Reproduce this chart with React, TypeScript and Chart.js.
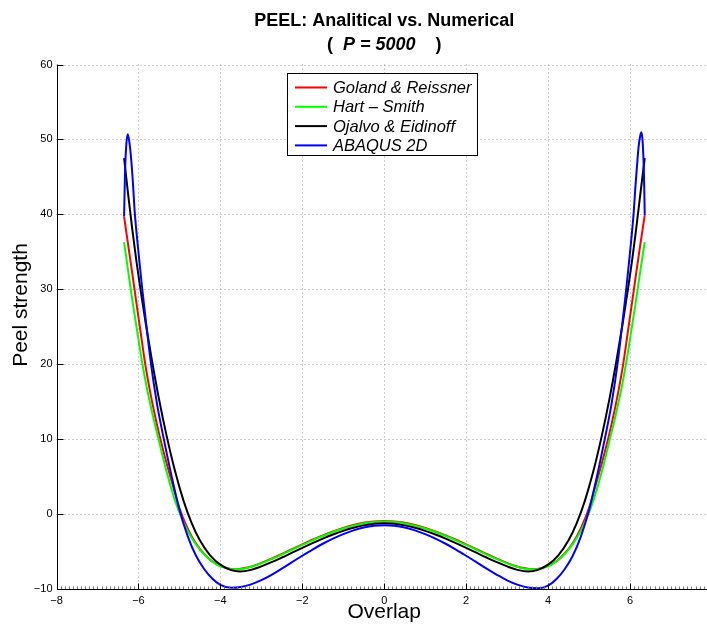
import React, { useEffect, useRef } from 'react';
import { Chart, registerables } from 'chart.js';

Chart.register(...registerables);

const FONT = '"Liberation Sans", Arial, Helvetica, sans-serif';

const xTicks = [-8, -6, -4, -2, 0, 2, 4, 6];
const yTicks = [-10, 0, 10, 20, 30, 40, 50, 60];
const titleLine1 = 'PEEL: Analitical vs. Numerical';
const titleLine2 = ['(  ', 'P = 5000', '    )'];
const xLabel = 'Overlap';
const yLabel = 'Peel strength';
const legendLabels = ['Goland & Reissner', 'Hart \u2013 Smith', 'Ojalvo & Eidinoff', 'ABAQUS 2D'];
const seriesColors = ['#ff0000', '#00ff00', '#000000', '#0000ff'];

const golandX = [-6.35, -6.25, -6.15, -6.06, -5.95, -5.84, -5.7, -5.55, -5.4, -5.2, -5.0, -4.8, -4.6, -4.4, -4.2, -4.0, -3.8, -3.64, -3.4, -3.2, -3.0, -2.75, -2.5, -2.25, -2.0, -1.75, -1.5, -1.25, -1.0, -0.75, -0.5, -0.25, 0,
  0.25, 0.5, 0.75, 1.0, 1.25, 1.5, 1.75, 2.0, 2.25, 2.5, 2.75, 3.0, 3.2, 3.4, 3.64, 3.8, 4.0, 4.2, 4.4, 4.6, 4.8, 5.0, 5.2, 5.4, 5.55, 5.7, 5.84, 5.95, 6.06, 6.15, 6.25, 6.36];
const golandY = [39.7, 35.9, 32.1, 28.6, 24.4, 20.2, 15.9, 12.0, 8.6, 4.6, 0.8, -1.9, -3.9, -5.3, -6.3, -6.9, -7.25, -7.37, -7.2, -6.92, -6.52, -5.95, -5.33, -4.68, -4.04, -3.42, -2.84, -2.31, -1.85, -1.46, -1.17, -0.99, -0.92,
  -0.99, -1.17, -1.46, -1.85, -2.31, -2.84, -3.42, -4.04, -4.68, -5.33, -5.95, -6.52, -6.92, -7.2, -7.37, -7.25, -6.9, -6.3, -5.3, -3.9, -1.9, 0.8, 4.6, 8.6, 12.0, 15.9, 20.2, 24.4, 28.6, 32.1, 35.9, 39.9];

const hartX = [-6.35, -6.25, -6.15, -6.05, -5.92, -5.8, -5.65, -5.5, -5.3, -5.1, -4.9, -4.7, -4.5, -4.3, -4.1, -3.9, -3.64, -3.4, -3.2, -3.0, -2.75, -2.5, -2.25, -2.0, -1.75, -1.5, -1.25, -1.0, -0.75, -0.5, -0.25, 0,
  0.25, 0.5, 0.75, 1.0, 1.25, 1.5, 1.75, 2.0, 2.25, 2.5, 2.75, 3.0, 3.2, 3.4, 3.64, 3.9, 4.1, 4.3, 4.5, 4.7, 4.9, 5.1, 5.3, 5.5, 5.65, 5.8, 5.92, 6.05, 6.15, 6.25, 6.36];
const hartY = [36.3, 32.4, 28.6, 25.1, 20.6, 17.0, 13.2, 9.8, 5.4, 1.7, -1.1, -3.2, -4.75, -5.9, -6.7, -7.15, -7.4, -7.25, -6.97, -6.58, -6.02, -5.4, -4.76, -4.12, -3.5, -2.92, -2.39, -1.93, -1.54, -1.25, -1.06, -0.99,
  -1.06, -1.25, -1.54, -1.93, -2.39, -2.92, -3.5, -4.12, -4.76, -5.4, -6.02, -6.58, -6.97, -7.25, -7.4, -7.15, -6.7, -5.9, -4.75, -3.2, -1.1, 1.7, 5.4, 9.8, 13.2, 17.0, 20.6, 25.1, 28.6, 32.4, 36.3];

const ojalvoX = [-6.35, -6.25, -6.15, -6.05, -5.95, -5.82, -5.68, -5.5, -5.31, -5.1, -4.9, -4.7, -4.5, -4.25, -4.0, -3.75, -3.52, -3.25, -3.0, -2.75, -2.5, -2.25, -2.0, -1.75, -1.5, -1.25, -1.0, -0.75, -0.5, -0.25, 0,
  0.25, 0.5, 0.75, 1.0, 1.25, 1.5, 1.75, 2.0, 2.25, 2.5, 2.75, 3.0, 3.25, 3.52, 3.75, 4.0, 4.25, 4.5, 4.7, 4.9, 5.1, 5.31, 5.5, 5.68, 5.82, 5.95, 6.05, 6.15, 6.25, 6.36];
const ojalvoY = [47.5, 42.6, 38.0, 33.8, 30.0, 25.4, 20.8, 15.4, 10.4, 5.6, 1.8, -1.2, -3.5, -5.5, -6.75, -7.45, -7.68, -7.45, -6.98, -6.42, -5.8, -5.15, -4.5, -3.87, -3.27, -2.72, -2.24, -1.83, -1.51, -1.3, -1.22,
  -1.3, -1.51, -1.83, -2.24, -2.72, -3.27, -3.87, -4.5, -5.15, -5.8, -6.42, -6.98, -7.45, -7.68, -7.45, -6.75, -5.5, -3.5, -1.2, 1.8, 5.6, 10.4, 15.4, 20.8, 25.4, 30.0, 33.8, 38.0, 42.6, 47.5];

const abaqusX = [-6.35, -6.33, -6.3, -6.26, -6.22, -6.17, -6.13, -6.09, -6.0, -5.91, -5.8, -5.7, -5.55, -5.38, -5.2, -5.0, -4.8, -4.6, -4.4, -4.2, -4.0, -3.73, -3.5, -3.25, -3.0, -2.75, -2.5, -2.25, -2.0, -1.75, -1.5, -1.25, -1.0, -0.75, -0.5, -0.25, 0,
  0.25, 0.5, 0.75, 1.0, 1.25, 1.5, 1.75, 2.0, 2.25, 2.5, 2.75, 3.0, 3.25, 3.5, 3.75, 4.0, 4.2, 4.4, 4.6, 4.8, 5.0, 5.2, 5.38, 5.55, 5.7, 5.8, 5.91, 6.0, 6.09, 6.13, 6.17, 6.21, 6.25, 6.28, 6.31, 6.34, 6.36];
const abaqusY = [39.7, 45.0, 49.0, 50.7, 49.6, 46.9, 43.8, 40.3, 35.0, 30.2, 24.9, 20.3, 14.8, 10.0, 5.3, 0.6, -2.9, -5.5, -7.3, -8.6, -9.45, -9.83, -9.72, -9.38, -8.82, -8.1, -7.28, -6.42, -5.56, -4.73, -3.96, -3.27, -2.67, -2.17, -1.8, -1.57, -1.49,
  -1.57, -1.8, -2.17, -2.67, -3.27, -3.96, -4.73, -5.56, -6.42, -7.28, -8.1, -8.85, -9.42, -9.8, -9.9, -9.55, -8.7, -7.4, -5.6, -3.0, 0.5, 5.2, 9.9, 14.7, 20.2, 24.8, 30.1, 34.9, 40.2, 43.5, 46.4, 49.0, 50.5, 50.95, 49.6, 45.5, 39.9];

const seriesX = [golandX, hartX, ojalvoX, abaqusX];
const seriesY = [golandY, hartY, ojalvoY, abaqusY];

function line(ctx: CanvasRenderingContext2D, x1: number, y1: number, x2: number, y2: number) {
  ctx.beginPath();
  ctx.moveTo(x1, y1);
  ctx.lineTo(x2, y2);
  ctx.stroke();
}

const decorPlugin = {
  id: 'decor',
  beforeDatasetsDraw(chart: any) {
    const { ctx, chartArea, scales } = chart;
    const xs = scales.x;
    const ys = scales.y;
    ctx.save();
    ctx.strokeStyle = '#999999';
    ctx.lineWidth = 1;
    ctx.setLineDash([1, 3]);
    for (let i = 1; i < xTicks.length; i++) {
      const px = Math.round(xs.getPixelForValue(xTicks[i])) + 0.5;
      line(ctx, px, chartArea.top, px, chartArea.bottom);
    }
    for (let i = 1; i < yTicks.length; i++) {
      const py = Math.round(ys.getPixelForValue(yTicks[i])) + 0.5;
      line(ctx, chartArea.left, py, chartArea.right, py);
    }
    ctx.restore();
  },
  afterDatasetsDraw(chart: any) {
    const { ctx, chartArea, scales } = chart;
    const xs = scales.x;
    const ys = scales.y;
    const left = Math.round(chartArea.left) + 0.5;
    const bottom = Math.round(chartArea.bottom) + 0.5;
    ctx.save();
    ctx.strokeStyle = '#777777';
    ctx.lineWidth = 1;
    for (let v = -8; v <= 7.9; v += 0.1) {
      const px = Math.round(xs.getPixelForValue(v)) + 0.5;
      line(ctx, px, bottom - 3, px, bottom);
    }
    ctx.strokeStyle = '#000000';
    line(ctx, left, chartArea.top, left, bottom);
    line(ctx, left, bottom, chartArea.right, bottom);
    for (const v of xTicks) {
      const px = Math.round(xs.getPixelForValue(v)) + 0.5;
      line(ctx, px, bottom, px, bottom - 6);
    }
    for (const v of yTicks) {
      const py = Math.round(ys.getPixelForValue(v)) + 0.5;
      line(ctx, left, py, left + 6, py);
    }

    // legend
    const lx = 287.5, ly = 73.5, lw = 190, lh = 82;
    ctx.fillStyle = '#ffffff';
    ctx.fillRect(lx, ly, lw, lh);
    ctx.strokeStyle = '#000000';
    ctx.lineWidth = 1;
    ctx.strokeRect(lx, ly, lw, lh);
    ctx.font = 'italic 16.5px ' + FONT;
    ctx.textBaseline = 'middle';
    ctx.textAlign = 'left';
    for (let i = 0; i < legendLabels.length; i++) {
      const yy = 87.5 + i * 19.3;
      ctx.strokeStyle = seriesColors[i];
      ctx.lineWidth = 2;
      line(ctx, 295, yy, 327, yy);
      ctx.fillStyle = '#000000';
      ctx.fillText(legendLabels[i], 333, yy + 1);
    }

    // titles
    const cx = (chartArea.left + xs.getPixelForValue(8)) / 2;
    ctx.fillStyle = '#000000';
    ctx.textAlign = 'center';
    ctx.font = 'bold 18px ' + FONT;
    ctx.fillText(titleLine1, cx, 21);
    const fonts = ['bold 18px ' + FONT, 'italic bold 18px ' + FONT, 'bold 18px ' + FONT];
    let total = 0;
    const widths: number[] = [];
    for (let i = 0; i < 3; i++) {
      ctx.font = fonts[i];
      const w = ctx.measureText(titleLine2[i]).width;
      widths.push(w);
      total += w;
    }
    let sx = cx - total / 2;
    ctx.textAlign = 'left';
    for (let i = 0; i < 3; i++) {
      ctx.font = fonts[i];
      ctx.fillText(titleLine2[i], sx, 45);
      sx += widths[i];
    }
    ctx.textAlign = 'center';
    ctx.font = '21px ' + FONT;
    ctx.fillText(xLabel, cx, 612);
    ctx.save();
    ctx.translate(21, 305);
    ctx.rotate(-Math.PI / 2);
    ctx.fillText(yLabel, 0, 0);
    ctx.restore();
    ctx.restore();
  },
};

export default function App() {
  const ref = useRef<HTMLCanvasElement | null>(null);
  useEffect(() => {
    if (!ref.current) return;
    const fmt = (v: any) => String(v).replace('-', '\u2212');
    const chart = new Chart(ref.current, {
      type: 'line',
      data: {
        datasets: seriesX.map((xsArr, i) => ({
          label: legendLabels[i],
          data: xsArr.map((x, j) => ({ x, y: seriesY[i][j] })),
          borderColor: seriesColors[i],
          backgroundColor: seriesColors[i],
          borderWidth: 2,
          pointRadius: 0,
          fill: false,
          cubicInterpolationMode: 'monotone' as const,
          order: 4 - i,
        })),
      },
      options: {
        responsive: false,
        animation: false,
        devicePixelRatio: 1,
        layout: { padding: { top: 64.5, left: 0, right: 0, bottom: 0 } },
        plugins: { legend: { display: false }, tooltip: { enabled: false }, title: { display: false } },
        scales: {
          x: {
            type: 'linear',
            min: -8,
            max: 7.88,
            grid: { display: false, drawTicks: false, tickLength: 0 },
            border: { display: false },
            ticks: {
              stepSize: 2,
              includeBounds: false,
              autoSkip: false,
              maxRotation: 0,
              padding: 5,
              color: '#000000',
              font: { family: FONT, size: 11 },
              callback: fmt,
            },
            afterFit: (s: any) => { s.height = 39; },
          },
          y: {
            type: 'linear',
            min: -10,
            max: 60,
            grid: { display: false, drawTicks: false, tickLength: 0 },
            border: { display: false },
            ticks: {
              stepSize: 10,
              autoSkip: false,
              padding: 4,
              color: '#000000',
              font: { family: FONT, size: 11 },
              callback: fmt,
            },
            afterFit: (s: any) => { s.width = 56.5; },
          },
        },
      },
      plugins: [decorPlugin],
    } as any);
    return () => chart.destroy();
  }, []);
  return (
    <div style={{ position: 'fixed', left: 0, top: 0, width: 707, height: 628, background: '#ffffff' }}>
      <canvas ref={ref} width={707} height={628} style={{ display: 'block', width: 707, height: 628 }} />
    </div>
  );
}
